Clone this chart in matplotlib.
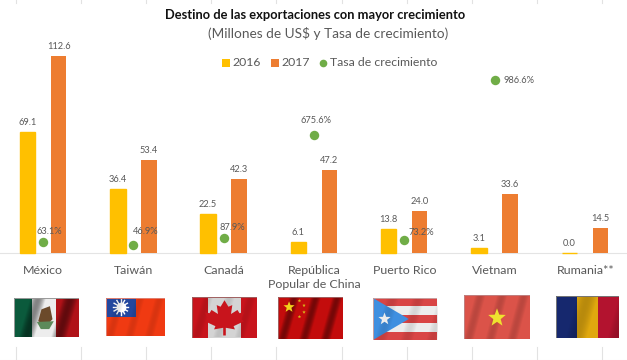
import numpy as np
import matplotlib
matplotlib.use("Agg")
import matplotlib.pyplot as plt
from matplotlib.patches import Rectangle, Polygon
from matplotlib.lines import Line2D

plt.rcParams['font.family'] = ['Lato', 'DejaVu Sans']

countries = ["México", "Taiwán", "Canadá", "República\nPopular de China", "Puerto Rico", "Vietnam", "Rumania**"]
v2016 = [69.1, 36.4, 22.5, 6.1, 13.8, 3.1, 0.0]
v2017 = [112.6, 53.4, 42.3, 47.2, 24.0, 33.6, 14.5]
growth = [63.1, 46.9, 87.9, 675.6, 73.2, 986.6, None]
growth_labels = ["63.1%", "46.9%", "87.9%", "675.6%", "73.2%", "986.6%", None]
label_offsets = [(6, 10), (12.5, 13), (9, 10.5), (2, 14.5), (17, 7.5), (25, 0), None]

W, H = 627, 360
YEL, ORA, GRN = "#FFC000", "#ED7D31", "#70AD47"
TXT = "#595959"

fig = plt.figure(figsize=(W/100, H/100), dpi=100, facecolor="white")

def box(x0, y0, x1, y1):
    return [x0/W, 1-y1/H, (x1-x0)/W, (y1-y0)/H]

ax = fig.add_axes(box(0, 0, W, 253))
ax.set_xlim((0-43)/90.3, (W-43)/90.3)
ax.set_ylim(0, 253/1.75)
for s in ["top", "left", "right"]:
    ax.spines[s].set_visible(False)
ax.spines["bottom"].set_color("#E4E4E4")
ax.set_yticks([])
ax.set_xticks([])
ax.patch.set_alpha(0)

x = np.arange(len(countries))
bw, off = 0.172, 0.172
bars16 = ax.bar(x-off, v2016, bw, color=YEL, edgecolor=YEL, linewidth=1.0, zorder=3, clip_on=False)
ax.bar(x+off, v2017, bw, color=ORA, zorder=3)
for xi, a, b in zip(x, v2016, v2017):
    ax.annotate(f"{a:.1f}", (xi-off, a), xytext=(0, 5), textcoords="offset pixels",
                ha="center", va="bottom", fontsize=6.7, color=TXT)
    ax.annotate(f"{b:.1f}", (xi+off, b), xytext=(0, 5), textcoords="offset pixels",
                ha="center", va="bottom", fontsize=6.7, color=TXT)

ax2 = ax.twinx()
ax2.set_ylim(0, 253/0.175)
ax2.axis("off")
for i, (g, lab, o) in enumerate(zip(growth, growth_labels, label_offsets)):
    if g is None:
        continue
    ax2.plot([i], [g], "o", ms=6.8, color=GRN, mec="none")
    ax2.annotate(lab, (i, g), xytext=o, textcoords="offset pixels",
                 ha="center", va="center", fontsize=6.7, color=TXT)

# category labels
centers = [43, 133.5, 223.5, 314, 405, 495, 585.5]
for cx, name in zip(centers, countries):
    fig.text(cx/W, 1-264.5/H, name, ha="center", va="top", fontsize=8.9, color=TXT, linespacing=1.35)

# titles
fig.text(315/W, 1-15/H, "Destino de las exportaciones con mayor crecimiento", ha="center", va="center",
         fontsize=9.25, fontweight="bold", color="#111111")
fig.text(328/W, 1-33/H, "(Millones de US$ y Tasa de crecimiento)", ha="center", va="center",
         fontsize=9.8, color=TXT)

# legend
ov = fig.add_axes([0, 0, 1, 1], facecolor="none")
ov.set_xlim(0, W); ov.set_ylim(H, 0); ov.axis("off")
ov.add_patch(Rectangle((222, 59), 7.5, 7.5, color=YEL, lw=0))
ov.text(232, 62.5, "2016", fontsize=8.8, color=TXT, va="center")
ov.add_patch(Rectangle((271, 59), 7.5, 7.5, color=ORA, lw=0))
ov.text(281, 62.5, "2017", fontsize=8.8, color=TXT, va="center")
ov.plot([323], [62.5], "o", ms=5.5, color=GRN, mec="none")
ov.text(330, 62.5, "Tasa de crecimiento", fontsize=8.8, color=TXT, va="center")

# spreadsheet gridline stubs
for gx in [16, 81, 146, 211, 276, 342, 407, 472, 537, 602]:
    ov.add_line(Line2D([gx, gx], [0, 3], color="#E2E2E2", lw=0.8))
    ov.add_line(Line2D([gx, gx], [347, 360], color="#E2E2E2", lw=0.8))
ov.add_line(Line2D([0, W], [359.5, 359.5], color="#EDEDED", lw=0.8))

# flags
def flag(x0, y0, x1, y1, draw, amp=0.30, n=3.0, edge="#9a9a9a"):
    a = fig.add_axes(box(x0, y0, x1, y1))
    a.set_xlim(0, 1); a.set_ylim(1, 0); a.axis("off")
    draw(a)
    xs = np.linspace(0, 1, 130)
    ys = np.linspace(0, 1, 60)
    X, Y = np.meshgrid(xs, ys)
    s = np.sin(2*np.pi*n*(X+0.18*Y))
    rgba = np.zeros(X.shape+(4,))
    rgba[..., 3] = np.clip(-s, 0, 1)*amp
    a.imshow(rgba, extent=(0, 1, 1, 0), aspect="auto", zorder=5)
    a.set_xlim(0, 1); a.set_ylim(1, 0)
    a.add_patch(Rectangle((0, 0), 1, 1, fill=False, ec=edge, lw=0.7, zorder=6))

def star(a, cx, cy, r, color, asp=1.55, z=3):
    ang = np.pi/2 + np.arange(10)*np.pi/5
    rad = np.where(np.arange(10) % 2 == 0, r, r*0.42)
    a.add_patch(Polygon(np.c_[cx+rad*np.cos(ang), cy-rad*np.sin(ang)*asp], color=color, lw=0, zorder=z))

def mx(a):
    a.add_patch(Rectangle((0, 0), 0.28, 1, color="#0B5A3C", lw=0))
    a.add_patch(Rectangle((0.28, 0), 0.38, 1, color="#EDEDED", lw=0))
    a.add_patch(Rectangle((0.66, 0), 0.34, 1, color="#B01218", lw=0))
    a.add_patch(Polygon([[0.43, 0.3], [0.56, 0.22], [0.6, 0.55], [0.5, 0.72], [0.38, 0.6]], color="#6B4A2B", lw=0, zorder=7))
    a.add_patch(Polygon([[0.36, 0.62], [0.62, 0.6], [0.55, 0.8], [0.42, 0.8]], color="#5C8A5A", lw=0, zorder=7))

def tw(a):
    a.add_patch(Rectangle((0, 0), 1, 1, color="#F03A12", lw=0))
    a.add_patch(Rectangle((0, 0), 0.51, 0.5, color="#23479E", lw=0, zorder=2))
    for t in np.arange(12)*np.pi/6:
        a.plot([0.25, 0.25+0.13*np.cos(t)], [0.25, 0.25+0.2*np.sin(t)], color="white", lw=1, zorder=3)
    a.plot([0.25], [0.25], "o", ms=6, color="white", zorder=4)

def ca(a):
    a.add_patch(Rectangle((0, 0), 1, 1, color="#C8141C", lw=0))
    a.add_patch(Rectangle((0.25, 0), 0.5, 1, color="#D4D4D4", lw=0))
    leaf = [[.5,.08],[.56,.24],[.62,.2],[.6,.42],[.7,.32],[.73,.4],[.8,.38],[.76,.55],[.8,.6],[.64,.72],[.66,.8],[.52,.76],[.52,.95],[.48,.95],[.48,.76],[.34,.8],[.36,.72],[.2,.6],[.24,.55],[.2,.38],[.27,.4],[.3,.32],[.4,.42],[.38,.2],[.44,.24]]
    a.add_patch(Polygon(leaf, color="#C8141C", lw=0, zorder=7))

def cn(a):
    a.add_patch(Rectangle((0, 0), 1, 1, color="#C30C0C", lw=0))
    star(a, 0.17, 0.24, 0.09, "#F2D21B", z=7)
    for (sx, sy) in [(0.33, 0.09), (0.4, 0.2), (0.4, 0.36), (0.33, 0.47)]:
        star(a, sx, sy, 0.028, "#D8B81A", z=7)

def pr(a):
    a.add_patch(Rectangle((0, 0), 1, 1, color="#D94545", lw=0))
    a.add_patch(Rectangle((0, .2), 1, .2, color="#EDEDED", lw=0))
    a.add_patch(Rectangle((0, .6), 1, .2, color="#EDEDED", lw=0))
    a.add_patch(Polygon([[0, 0], [.56, .5], [0, 1]], color="#3F8FE0", lw=0, zorder=2))
    star(a, 0.18, 0.5, 0.1, "#EDEDED", z=7)

def vn(a):
    a.add_patch(Rectangle((0, 0), 1, 1, color="#DB5349", lw=0))
    star(a, 0.5, 0.52, 0.14, "#EFE12F", z=7)

def ro(a):
    a.add_patch(Rectangle((0, 0), 1/3, 1, color="#16286E", lw=0))
    a.add_patch(Rectangle((1/3, 0), 1/3, 1, color="#E0A80F", lw=0))
    a.add_patch(Rectangle((2/3, 0), 1/3, 1, color="#B3132F", lw=0))

flag(13.5, 297.5, 78.5, 337, mx, amp=0.45, n=2.0)
flag(106, 297.5, 165, 336, tw, amp=0.10, n=3.0, edge="#e08070")
flag(192, 297, 257, 337.5, ca, amp=0.10, n=3.0, edge="#a06060")
flag(278, 297, 343, 339, cn, amp=0.40, n=3.0, edge="#a06060")
flag(373, 298, 437, 340, pr, amp=0.10, n=2.5, edge="#c9a0a0")
flag(464, 295, 530, 339, vn, amp=0.15, n=3.0, edge="#c08080")
flag(556, 296, 619, 338, ro, amp=0.18, n=1.5, edge="#777777")

fig.savefig("out.png", dpi=100, facecolor="white")
